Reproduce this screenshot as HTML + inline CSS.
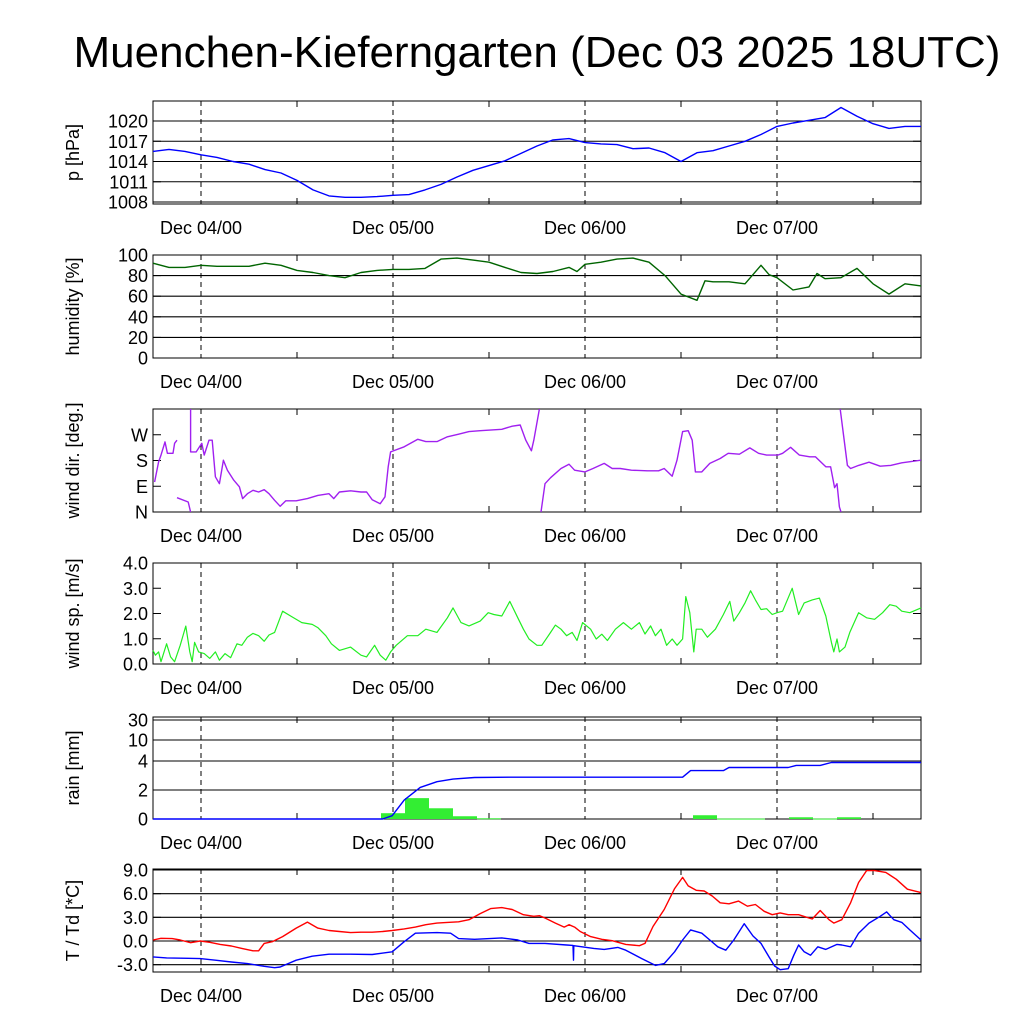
<!DOCTYPE html>
<html><head><meta charset="utf-8">
<style>
html,body{margin:0;padding:0;background:#fff;}
svg{display:block;font-family:"Liberation Sans",sans-serif;}
</style></head>
<body>
<svg id="chart" width="1024" height="1024" viewBox="0 0 1024 1024" xmlns="http://www.w3.org/2000/svg">
<text x="537" y="67" font-size="44" text-anchor="middle" fill="#000">Muenchen-Kieferngarten (Dec 03 2025 18UTC)</text>
</svg>
<script>
// ---- data (hours since Dec 03 18UTC) ----
const dayLabels = ["Dec 04/00","Dec 05/00","Dec 06/00","Dec 07/00"];
const dayHours = [6,30,54,78];

const presHours = [0,2,4,6,8,10,12,14,16,18,20,22,24,26,28,30,32,34,36,38,40,42,44,46,48,50,52,54,56,58,60,62,64,66,68,70,72,74,76,78,80,82,84,86,88,90,92,94,96];
const presVals = [1015.5,1015.8,1015.5,1015,1014.6,1014,1013.6,1012.8,1012.3,1011.2,1009.8,1008.9,1008.7,1008.7,1008.8,1009.0,1009.1,1009.8,1010.6,1011.7,1012.7,1013.4,1014.1,1015.2,1016.3,1017.2,1017.4,1016.8,1016.6,1016.5,1015.9,1016,1015.3,1014,1015.3,1015.6,1016.3,1017,1018,1019.2,1019.7,1020.1,1020.5,1022,1020.7,1019.6,1018.9,1019.2,1019.2];
const presTicks = [1008,1011,1014,1017,1020];

const humHours = [0,2,4,6,8,10,12,14,16,18,20,22,24,26,28,30,32,34,36,38,40,42,44,46,48,50,52,53,54,56,58,60,62,64,66,68,69,70,72,74,76,77,78,80,82,83,84,86,88,90,92,94,96];
const humVals = [92,88,88,90,89,89,89,92,90,85,83,80,78,83,85,86,86,87,96,97,95,93,88,83,82,84,88,84,91,93,96,97,93,80,62,56,75,74,74,72,90,81,78,66,69,82,77,78,87,72,62,72,70];
const humTicks = [0,20,40,60,80,100];

const dirSeg1H = [0.2,0.7,1,1.5,1.8,2.5,2.7,3];
const dirSeg1V = [105,175,199,245,205,205,240,251];
const dirSeg2H = [3,4.4,4.7];
const dirSeg2V = [50,35,0];
const dirSeg3H = [4.7,4.7,5.4,6.1,6.4,7,7.4,7.8,8.3,8.8,9.3,10.1,10.8,11.2,11.8,12.5,13.2,13.9,14.5,15.2,15.9,16.6,17.9,19.3,20.6,22,22.6,23.3,24.7,26,26.7,27.4,28.4,29,29.4,29.7,31.4,33.1,34.1,35.5,36.8,38.2,39.5,40.9,43.6,44.9,45.9,46.6,47.3,47.6,48.3];
const dirSeg3V = [360,210,210,240,199,251,251,123,99,181,146,111,88,47,64,76,70,78,64,41,20,39,39,47,58,64,47,70,74,70,70,43,29,53,158,210,228,254,246,246,263,272,281,284,289,300,304,251,214,251,360];
const dirSeg4H = [48.5,49,49.7,51,52,52.7,54,55,56.4,57.4,58.4,59.8,61.8,63.2,63.9,64.9,65.5,66.2,66.9,67.4,67.8,68.6,69.6,70.9,71.9,73.3,74.6,75.7,76.7,78.1,78.7,79.7,80.8,82.1,82.8,84.1,84.7,85.2,85.5,85.8,86];
const dirSeg4V = [0,99,120,152,167,146,140,152,170,152,152,146,144,144,152,125,181,281,284,251,140,140,170,187,205,202,224,205,199,199,205,226,199,193,193,158,158,85,99,18,0];
const dirSeg5H = [85.9,86.8,87.2,88.2,89.5,90.9,92.2,93.6,96];
const dirSeg5V = [360,163,152,163,174,160,163,172,181];
const dirTickVals = [0,90,180,270];
const dirTickLabels = ["N","E","S","W"];

const spdHours = [0,0.3,0.7,1,1.7,2.2,2.7,3.4,4.1,4.6,4.9,5.2,5.7,6.4,7.1,7.8,8.3,9,9.7,10.5,11.1,11.8,12.5,13.2,13.9,14.5,15.2,16.2,17.2,18.6,19.9,20.6,21.6,22.3,23.3,24.7,26,26.7,27.7,28.4,29.1,29.7,30.4,31.8,33.1,34.1,35.5,36.8,37.5,38.5,39.5,40.9,41.9,42.6,43.6,44.6,45.6,46.3,47,48,48.6,49.7,50.3,51,51.7,52.4,53,53.7,54.7,55.4,56.1,56.8,57.8,58.8,59.8,60.8,61.5,62.2,62.8,63.5,64.2,64.9,65.5,66.2,66.6,67.1,67.6,67.9,68.6,69.3,70.3,71.3,72.1,72.6,73.3,74,74.7,75.3,76,76.7,77.4,78,78.7,79.9,80.7,81.4,82.4,83.3,84.1,84.8,85.1,85.5,85.8,86.5,87.1,88.2,89.2,90.2,91.2,92.1,92.9,93.6,94.6,96];
const spdVals = [0.54,0.35,0.48,0.09,0.8,0.28,0.09,0.74,1.5,0.48,0.09,0.86,0.48,0.41,0.22,0.48,0.15,0.41,0.25,0.8,0.74,1.06,1.21,1.12,0.9,1.15,1.25,2.09,1.9,1.64,1.57,1.44,1.12,0.8,0.54,0.67,0.35,0.28,0.74,0.35,0.15,0.48,0.74,1.12,1.12,1.38,1.25,1.83,2.22,1.64,1.51,1.7,2.03,1.96,1.9,2.48,1.83,1.38,0.99,0.74,0.74,1.25,1.54,1.38,1.12,1.25,0.93,1.64,1.38,0.99,1.18,0.93,1.38,1.64,1.38,1.64,1.19,1.51,1.12,1.38,0.74,0.99,0.74,0.99,2.67,2.03,0.48,1.38,1.38,1.06,1.38,1.96,2.48,1.7,2.03,2.42,2.9,2.54,2.16,2.19,1.96,2.03,2.09,3.0,1.96,2.42,2.54,2.61,1.9,0.86,0.48,0.99,0.48,0.67,1.25,2.03,1.83,1.77,2.03,2.35,2.29,2.09,2.03,2.22];
const spdTicks = [0,1,2,3,4];

const rainCumHours = [0,28.7,29.9,31.4,33.4,35.5,37.5,40.2,44.9,66.2,67.2,71.3,72,79.4,80.4,83.4,84.8,96];
const rainCumVals = [0,0,0.23,1.3,2.18,2.57,2.75,2.86,2.88,2.88,3.34,3.34,3.55,3.55,3.7,3.7,3.9,3.9];
const rainBarStart = [28.5,31.5,34.5,37.5,40.5,67.5,70.5,73.5,79.5,82.5,85.5];
const rainBarVals = [0.4,1.44,0.74,0.19,0.05,0.26,0.03,0.03,0.12,0.03,0.12];
const rainTicks = [0,2,4,10,30];

const tHours = [0,1,2.4,3.4,4.7,5.9,7.1,8.4,9.8,11.1,12.5,13.2,13.9,14.9,16.2,17.9,19.3,20.6,22,23.3,24.7,26,27.4,28.7,29.9,31.4,32.8,34.1,35.5,36.8,38.2,39.5,40.9,42.2,43.6,44.9,46.3,47.6,48.3,49,50.3,51.4,52,52.7,53.4,54.7,56.1,57.4,59.1,60.8,61.5,62.5,63.9,65.2,66.2,66.9,67.9,68.9,69.9,70.9,72,73.2,74.3,75.3,76.4,77.4,78.4,79.4,80.7,82.4,83.4,84.5,85.1,86.1,87.2,88.2,89.2,90.2,91.6,92.9,94.3,96];
const tVals = [0.13,0.34,0.3,0.13,-0.21,0,-0.17,-0.43,-0.64,-0.94,-1.24,-1.24,-0.3,-0.09,0.56,1.63,2.4,1.63,1.33,1.2,1.07,1.11,1.11,1.2,1.33,1.54,1.76,2.06,2.27,2.36,2.44,2.7,3.47,4.11,4.24,3.99,3.34,3.13,3.21,2.91,2.27,1.76,2.06,1.76,1.2,0.56,0.21,0.04,-0.43,-0.6,-0.3,1.84,3.99,6.64,8.06,6.99,6.43,6.34,5.7,4.84,4.71,5.06,4.41,4.63,3.77,3.34,3.56,3.34,3.34,2.79,3.86,2.7,2.27,2.7,4.84,7.42,8.92,8.92,8.7,7.84,6.56,6.13];
const tdHours = [0,1.7,4.4,5.9,7.8,9.8,11.8,13.9,15.2,15.9,17.9,19.9,22,24.7,27.4,29.9,31.4,32.8,35.5,37.2,38.2,40.2,43.6,45.6,47,49,51.7,52.5,52.56,52.6,55.1,56.4,58.1,59.1,61.1,62.8,63.9,65.2,66.2,67.2,68.6,69.6,70.6,71.6,72.6,73.9,75,76,77,77.7,78.4,79.4,80.1,80.7,81.4,82.2,83.1,84.1,85.5,86.1,87.2,88.2,89.5,90.9,91.7,92.6,93.6,94.6,96];
const tdVals = [-2.01,-2.14,-2.19,-2.23,-2.44,-2.66,-2.87,-3.21,-3.39,-3.3,-2.44,-1.93,-1.67,-1.67,-1.71,-1.37,-0.09,0.99,1.07,0.99,0.3,0.21,0.39,0.13,-0.3,-0.3,-0.51,-0.56,-2.44,-0.6,-0.94,-1.07,-0.81,-1.16,-2.23,-3.09,-2.87,-1.37,0.13,1.41,0.99,0.13,-0.73,-1.16,0.13,2.19,0.64,-0.3,-2.01,-3.17,-3.64,-3.51,-1.8,-0.51,-1.37,-1.8,-0.73,-1.07,-0.43,-0.51,-0.73,0.99,2.27,3.13,3.69,2.7,2.36,1.41,0.13];
const tTicks = [-3,0,3,6,9];
const tTickLabels = ["-3.0","0.0","3.0","6.0","9.0"];

// ---- drawing ----
const NS = "http://www.w3.org/2000/svg";
const svg = document.getElementById("chart");
const X0 = 153, X1 = 921, HMAX = 96;
const xs = h => X0 + (h / HMAX) * (X1 - X0);
function mk(tag, attrs, parent) {
  const e = document.createElementNS(NS, tag);
  for (const k in attrs) e.setAttribute(k, attrs[k]);
  (parent || svg).appendChild(e);
  return e;
}
function linScale(v0, v1, top, bot) { return v => bot - (v - v0) / (v1 - v0) * (bot - top); }
function pathFrom(hs, vs, ys) {
  let d = "";
  for (let i = 0; i < hs.length; i++) d += (i ? "L" : "M") + xs(hs[i]).toFixed(1) + " " + ys(vs[i]).toFixed(1);
  return d;
}

function panel(name, top, bot, ylabel, ys, ticks, tickLabels, gridlines) {
  const g = mk("g", {});
  
  
  if (gridlines) ticks.forEach(t => {
    const l = mk("line", {x1: X0, x2: X1, y1: ys(t), y2: ys(t), stroke: "#000", "stroke-width": 1.1}, g);
    
    
  });
  dayHours.forEach(h => {
    const l = mk("line", {x1: xs(h), x2: xs(h), y1: top, y2: bot, stroke: "#000", "stroke-width": 1, "stroke-dasharray": "5,4"}, g);
    
    
  });
  [18, 42, 66, 90].forEach(h => {
    mk("line", {x1: xs(h), x2: xs(h), y1: bot, y2: bot - 6, stroke: "#000"}, g);
    mk("line", {x1: xs(h), x2: xs(h), y1: top, y2: top + 6, stroke: "#000"}, g);
  });
  ticks.forEach((t, i) => {
    const y = ys(t);
    mk("line", {x1: X0, x2: X0 + 8, y1: y, y2: y, stroke: "#000"}, g);
    mk("line", {x1: X1, x2: X1 - 8, y1: y, y2: y, stroke: "#000"}, g);
    const tx = mk("text", {x: 148, y: y + 6.5, "font-size": 18, "text-anchor": "end"}, g);
    tx.textContent = tickLabels[i];
    
    
  });
  const fr = mk("rect", {x: X0, y: top, width: X1 - X0, height: bot - top, fill: "none", stroke: "#000", "stroke-width": 1}, g);
  
  
  const cy = (top + bot) / 2;
  const yl = mk("text", {x: 0, y: 0, "font-size": 18, "text-anchor": "middle", transform: `translate(79 ${cy}) rotate(-90)`}, g);
  yl.textContent = ylabel;
  
  
  dayHours.forEach((h, i) => {
    const t = mk("text", {x: xs(h), y: bot + 30, "font-size": 18, "text-anchor": "middle"}, g);
    t.textContent = dayLabels[i];
    
    
  });
  return g;
}
function series(g, name, hs, vs, ys, color, w) {
  const p = mk("path", {d: pathFrom(hs, vs, ys), fill: "none", stroke: color, "stroke-width": w || 1.4, "stroke-linejoin": "round"}, g);
  
  
  return p;
}

// pressure
const ysP = linScale(1008, 1020, 121, 202);
const gP = panel("pressure", 101, 204, "p [hPa]", ysP, presTicks, presTicks.map(String), true);
series(gP, "pressure-line", presHours, presVals, ysP, "#0000ff");

// humidity
const ysH = linScale(0, 100, 255, 358);
const gH = panel("humidity", 255, 358, "humidity [%]", ysH, humTicks, humTicks.map(String), true);
series(gH, "humidity-line", humHours, humVals, ysH, "#006400");

// wind direction
const ysD = linScale(0, 360, 409, 512);
const gD = panel("wind-direction", 409, 512, "wind dir. [deg.]", ysD, dirTickVals, dirTickLabels, false);
const clipD = mk("clipPath", {id: "clipD"});
mk("rect", {x: X0, y: 409, width: X1 - X0, height: 103}, clipD);
const gDs = mk("g", {"clip-path": "url(#clipD)"}, gD);
series(gDs, "wind-direction-segment", dirSeg1H, dirSeg1V, ysD, "#a020f0");
series(gDs, "wind-direction-segment", dirSeg2H, dirSeg2V, ysD, "#a020f0");
series(gDs, "wind-direction-segment", dirSeg3H, dirSeg3V, ysD, "#a020f0");
series(gDs, "wind-direction-segment", dirSeg4H, dirSeg4V, ysD, "#a020f0");
series(gDs, "wind-direction-segment", dirSeg5H, dirSeg5V, ysD, "#a020f0");

// wind speed
const ysS = linScale(0, 4, 563, 664);
const gS = panel("wind-speed", 563, 664, "wind sp. [m/s]", ysS, spdTicks, spdTicks.map(v => v.toFixed(1)), false);
series(gS, "wind-speed-line", spdHours, spdVals, ysS, "#22ee22", 1.2);

// rain (piecewise scale)
const rainPix = [819, 790, 761, 740, 720];
function ysR(v) {
  for (let i = 0; i < rainTicks.length - 1; i++) {
    if (v <= rainTicks[i + 1]) return rainPix[i] + (v - rainTicks[i]) / (rainTicks[i + 1] - rainTicks[i]) * (rainPix[i + 1] - rainPix[i]);
  }
  return rainPix[rainPix.length - 1];
}
const gR = panel("rain", 717, 819, "rain [mm]", ysR, rainTicks, rainTicks.map(String), true);
rainBarStart.forEach((h, i) => {
  const y = ysR(rainBarVals[i]);
  const r = mk("rect", {x: xs(h), y: y, width: xs(h + 3) - xs(h), height: Math.max(ysR(0) - y, 1), fill: "#33ee33"}, gR);
  
  
});
series(gR, "rain-cumulative-line", rainCumHours, rainCumVals, ysR, "#0000ff");

// temperature
const ysT2 = v => 941 - v * (71 / 9);
const gT = panel("temperature", 869, 972, "T / Td [*C]", ysT2, tTicks, tTickLabels, true);
series(gT, "temperature-line", tHours, tVals, ysT2, "#ff0000");
series(gT, "dewpoint-line", tdHours, tdVals, ysT2, "#0000ff");
</script>
</body></html>
